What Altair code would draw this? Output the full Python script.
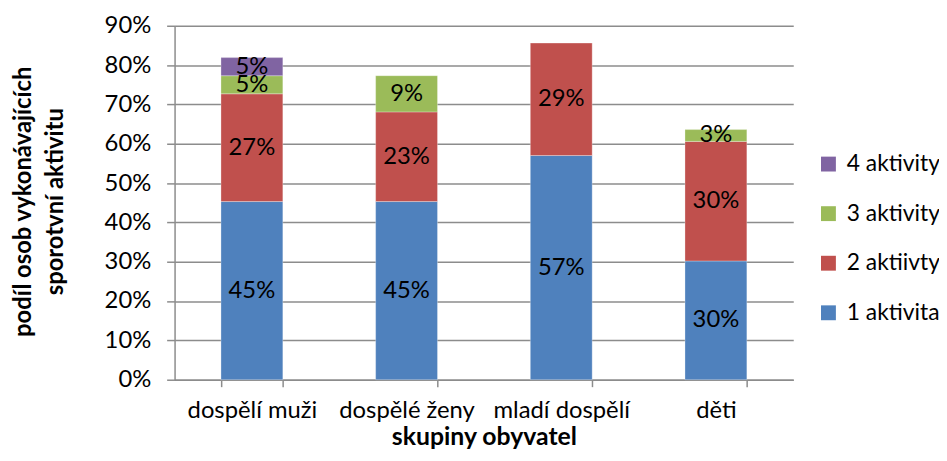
import altair as alt
import pandas as pd

groups = ["dospělí muži", "dospělé ženy", "mladí dospělí", "děti"]
series = ["1 aktivita", "2 aktiivty", "3 aktivity", "4 aktivity"]
colors = ["#4F81BD", "#C0504D", "#9BBB59", "#8064A2"]

# values in percent, per series, per group
v1 = [45.3, 45.3, 57.0, 30.2]
v2 = [27.4, 22.8, 28.6, 30.4]
v3 = [4.6, 9.2, 0.0, 3.0]
v4 = [4.6, 0.0, 0.0, 0.0]

rows = []
for si, (name, vals) in enumerate(zip(series, [v1, v2, v3, v4])):
    for g, v in zip(groups, vals):
        if v > 0:
            rows.append({"group": g, "series": name, "ord": si, "value": v,
                         "label": f"{round(v):.0f}%"})
df = pd.DataFrame(rows)

FONT = "Lato"
GRID = "#8c8c8c"
TITLE_Y = ["podíl osob vykonávajících", "sporotvní aktivitu"]


def yscale():
    return alt.Scale(domain=[0, 90], nice=False)


def yaxis():
    return alt.Axis(values=list(range(0, 91, 10)),
                    labelExpr="datum.value + '%'", labelOverlap=False,
                    tickSize=8, labelPadding=16, labelFontSize=24,
                    labelFont=FONT, labelColor="#000000",
                    titleFont=FONT, titleFontSize=24, titleFontWeight="bold",
                    titleColor="#000000", titleLineHeight=32,
                    titleX=-152, titleY=177, titleBaseline="middle",
                    titleAlign="center", titleAngle=270,
                    domainColor=GRID, tickColor=GRID, gridColor=GRID,
                    domainWidth=1.5, tickWidth=1.5, gridWidth=1.5)


base = alt.Chart(df).transform_stack(
    stack="value", groupby=["group"], sort=[alt.SortField("ord", order="ascending")],
    as_=["y0", "y1"]
).transform_calculate(mid="(datum.y0 + datum.y1) / 2")

x_enc = alt.X("group:N", sort=groups, title="skupiny obyvatel",
              scale=alt.Scale(paddingInner=0.6, paddingOuter=0.3),
              axis=alt.Axis(labelAngle=0, tickBand="extent", tickSize=7,
                            labelPadding=12, labelFontSize=24, labelFont=FONT,
                            labelColor="#000000", titleFont=FONT, titleFontSize=25,
                            titleFontWeight="bold", titleColor="#000000",
                            titlePadding=2, domainColor=GRID, tickColor=GRID,
                            domainWidth=1.5, tickWidth=1.5, grid=False))

bars = base.mark_bar(stroke="#ffffff", strokeWidth=0.6, strokeOpacity=0.5).encode(
    x=x_enc,
    y=alt.Y("y0:Q", scale=yscale(), title=TITLE_Y, axis=yaxis()),
    y2="y1:Q",
    color=alt.Color("series:N",
                    scale=alt.Scale(domain=list(reversed(series)),
                                    range=list(reversed(colors))),
                    legend=alt.Legend(title=None, orient="none", legendX=648,
                                      legendY=128, symbolType="square",
                                      symbolSize=225, symbolStrokeWidth=0,
                                      labelFont=FONT, labelFontSize=23,
                                      labelColor="#000000", rowPadding=26,
                                      labelOffset=7, symbolOffset=0)),
    order=alt.Order("ord:Q"),
)

texts = base.mark_text(font=FONT, fontSize=24, color="#000000", baseline="middle").encode(
    x=alt.X("group:N", sort=groups),
    y=alt.Y("mid:Q", scale=yscale(), title=TITLE_Y, axis=yaxis()),
    text="label:N",
)

chart = alt.layer(bars, texts).properties(
    width=624, height=357,
    autosize=alt.AutoSizeParams(type="none"),
    padding={"left": 168, "top": 16, "right": 147, "bottom": 72},
).configure_view(stroke=None)

chart.save("out.html", embed_options={"renderer": "svg", "actions": False})
